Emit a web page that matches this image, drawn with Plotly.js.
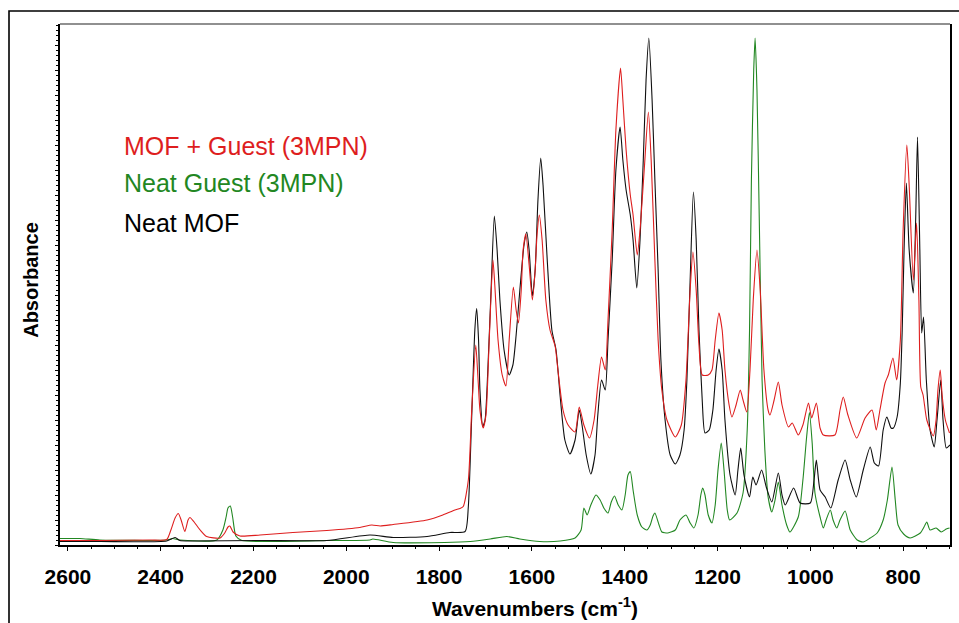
<!DOCTYPE html>
<html>
<head>
<meta charset="utf-8">
<script src="https://cdn.plot.ly/plotly-3.0.1.min.js"></script>
<style>html,body{margin:0;padding:0;background:#fff;}#chart{width:959px;height:623px;}</style>
</head>
<body>
<div id="chart"></div>
<script>
// Neat MOF (black)
var wnMOF = [2617,2531,2387,2369,2359,2331,2186,2042,1949,1899,
1826,1777,1744,1737,1730,1723,1719,1715,1712,1706,
1701,1695,1688,1681,1675,1669,1660,1649,1641,1634,
1626,1617,1611,1606,1599,1593,1587,1581,1576,1567,
1557,1548,1539,1529,1518,1507,1498,1492,1483,1473,
1464,1458,1450,1442,1436,1427,1419,1410,1404,1397,
1388,1382,1374,1367,1360,1354,1348,1341,1335,1328,
1322,1313,1302,1291,1281,1272,1266,1259,1252,1246,
1240,1233,1227,1218,1210,1203,1197,1190,1184,1173,
1162,1156,1150,1143,1131,1124,1117,1105,1095,1083,
1069,1061,1054,1036,1022,1000,992,987,979,968,
956,940,925,914,901,886,871,862,853,843,
835,826,821,813,806,802,798,793,787,778,
773,769,764,760,756,750,742,733,727,719,
714,707,699];
var absMOF = [0.007,0.007,0.008,0.015,0.009,0.008,0.009,0.009,0.020,0.015,
0.017,0.025,0.027,0.077,0.250,0.430,0.473,0.410,0.310,0.237,
0.250,0.350,0.510,0.658,0.590,0.490,0.390,0.340,0.360,0.420,
0.510,0.600,0.626,0.590,0.498,0.550,0.690,0.774,0.720,0.570,
0.430,0.390,0.296,0.210,0.182,0.210,0.270,0.240,0.180,0.142,
0.180,0.260,0.330,0.310,0.410,0.570,0.750,0.836,0.770,0.710,
0.660,0.610,0.514,0.610,0.770,0.930,1.014,0.890,0.730,0.550,
0.370,0.250,0.180,0.162,0.180,0.230,0.330,0.530,0.706,0.610,
0.430,0.290,0.224,0.230,0.270,0.350,0.392,0.350,0.250,0.140,
0.100,0.150,0.194,0.140,0.096,0.136,0.120,0.150,0.116,0.086,
0.144,0.100,0.080,0.114,0.084,0.084,0.130,0.170,0.110,0.096,
0.074,0.130,0.170,0.130,0.096,0.150,0.196,0.164,0.158,0.230,
0.256,0.234,0.234,0.256,0.324,0.430,0.590,0.724,0.590,0.504,
0.650,0.816,0.590,0.424,0.456,0.330,0.230,0.196,0.250,0.330,
0.250,0.194,0.200];

// MOF + Guest (3MPN) (red)
var wnMOFGuest = [2617,2531,2423,2387,2378,2369,2362,2356,2348,2341,
2337,2328,2315,2301,2272,2262,2255,2251,2244,2229,
2186,2115,2042,1971,1945,1927,1899,1826,1792,1766,
1755,1748,1737,1730,1721,1716,1712,1705,1699,1692,
1684,1680,1673,1664,1656,1649,1640,1634,1629,1623,
1619,1613,1606,1599,1593,1589,1584,1578,1570,1561,
1550,1544,1533,1522,1507,1498,1488,1476,1466,1458,
1450,1442,1436,1427,1419,1409,1404,1397,1388,1382,
1373,1367,1358,1349,1343,1335,1328,1320,1309,1291,
1278,1268,1259,1253,1246,1240,1233,1220,1212,1205,
1197,1190,1184,1175,1169,1160,1151,1145,1137,1130,
1123,1115,1108,1100,1091,1087,1078,1069,1061,1047,
1039,1026,1016,1004,997,987,979,972,947,936,
929,919,900,882,867,858,850,839,832,822,
814,806,800,792,787,778,771,766,762,757,
749,735,729,725,720,716,709,700];
var absMOFGuest = [0.009,0.009,0.010,0.011,0.030,0.054,0.063,0.050,0.027,0.050,
0.055,0.046,0.030,0.017,0.014,0.024,0.036,0.038,0.026,0.018,
0.020,0.025,0.029,0.035,0.040,0.038,0.041,0.050,0.060,0.070,
0.073,0.077,0.130,0.264,0.400,0.330,0.270,0.234,0.260,0.410,
0.570,0.520,0.410,0.340,0.318,0.410,0.516,0.470,0.444,0.510,
0.590,0.622,0.560,0.490,0.550,0.620,0.660,0.610,0.490,0.430,
0.398,0.350,0.270,0.240,0.226,0.276,0.240,0.214,0.250,0.320,
0.376,0.350,0.450,0.630,0.830,0.954,0.890,0.790,0.700,0.660,
0.580,0.630,0.750,0.866,0.770,0.570,0.410,0.310,0.250,0.216,
0.240,0.330,0.510,0.586,0.510,0.400,0.340,0.340,0.350,0.410,
0.464,0.430,0.350,0.280,0.256,0.280,0.310,0.290,0.266,0.350,
0.490,0.590,0.510,0.350,0.270,0.260,0.290,0.326,0.280,0.236,
0.244,0.220,0.240,0.284,0.254,0.284,0.234,0.220,0.220,0.270,
0.296,0.260,0.214,0.254,0.270,0.230,0.270,0.324,0.340,0.374,
0.330,0.410,0.630,0.800,0.720,0.530,0.644,0.490,0.316,0.300,
0.250,0.218,0.250,0.310,0.350,0.300,0.250,0.224];

// Neat Guest (3MPN) (green)
var wnGuest = [2617,2574,2531,2387,2374,2359,2279,2266,2259,2255,
2250,2245,2238,2225,2042,1949,1943,1899,1755,1733,
1690,1654,1626,1583,1539,1507,1494,1488,1481,1473,
1462,1453,1445,1436,1429,1422,1414,1406,1399,1393,
1388,1382,1373,1363,1352,1345,1339,1335,1326,1320,
1307,1291,1281,1268,1259,1251,1242,1236,1232,1227,
1220,1212,1205,1199,1192,1186,1179,1174,1158,1145,
1136,1131,1127,1122,1119,1115,1110,1104,1098,1091,
1083,1076,1069,1061,1051,1044,1026,1016,1008,1002,
996,990,979,972,966,957,951,943,936,925,
914,899,886,871,856,843,834,824,817,811,
799,785,763,755,749,742,729,718,707,700];
var absGuest = [0.013,0.013,0.010,0.010,0.013,0.010,0.010,0.030,0.056,0.074,
0.078,0.056,0.018,0.009,0.009,0.010,0.012,0.005,0.006,0.007,
0.012,0.017,0.012,0.007,0.008,0.014,0.030,0.074,0.060,0.080,
0.100,0.090,0.074,0.064,0.086,0.098,0.080,0.070,0.100,0.140,
0.147,0.110,0.060,0.036,0.030,0.040,0.058,0.064,0.040,0.026,
0.024,0.030,0.050,0.060,0.044,0.034,0.060,0.100,0.114,0.100,
0.060,0.044,0.080,0.150,0.204,0.150,0.070,0.050,0.064,0.104,
0.230,0.430,0.730,0.950,1.014,0.910,0.650,0.330,0.190,0.096,
0.066,0.090,0.126,0.080,0.040,0.026,0.056,0.130,0.216,0.265,
0.204,0.104,0.056,0.034,0.050,0.070,0.050,0.034,0.050,0.068,
0.030,0.010,0.006,0.014,0.024,0.050,0.090,0.156,0.090,0.040,
0.022,0.014,0.024,0.036,0.046,0.030,0.034,0.026,0.032,0.034];

var tickVals = [2600,2400,2200,2000,1800,1600,1400,1200,1000,800];
var seriesNames = ["MOF + Guest (3MPN)", "Neat Guest (3MPN)", "Neat MOF"];

var RED = "rgb(222,30,30)", GREEN = "rgb(34,135,34)", BLACK = "rgb(15,15,15)";
var FONT = "Arial, 'Liberation Sans', sans-serif";

function lineStyle(c) { return {color: c, width: 1.1, shape: "spline", smoothing: 0.6}; }

var traces = [
  {x: wnGuest, y: absGuest, name: seriesNames[1], type: "scatter", mode: "lines", line: lineStyle(GREEN)},
  {x: wnMOF, y: absMOF, name: seriesNames[2], type: "scatter", mode: "lines", line: lineStyle(BLACK)},
  {x: wnMOFGuest, y: absMOFGuest, name: seriesNames[0], type: "scatter", mode: "lines", line: lineStyle(RED)}
];

var layout = {
  width: 959, height: 623,
  margin: {l: 60, r: 9, t: 24, b: 78},
  paper_bgcolor: "#fff", plot_bgcolor: "#fff",
  showlegend: false,
  font: {family: FONT, color: "#000"},
  xaxis: {
    range: [2617, 699], tickvals: tickVals, ticktext: tickVals.map(String),
    showgrid: false, zeroline: false, showline: true, linecolor: "#000", linewidth: 2,
    ticks: "outside", ticklen: 4, tickwidth: 1, tickcolor: "#000",
    minor: {dtick: 50, ticks: "outside", ticklen: 2, tickcolor: "#000"},
    tickfont: {family: FONT, size: 21, weight: "bold", color: "#000"},
    ticklabelstandoff: 8
  },
  yaxis: {
    range: [0, 1.042], showticklabels: false, showgrid: false, zeroline: false,
    showline: true, linecolor: "#000", linewidth: 2, mirror: true,
    ticks: "outside", ticklen: 3, tickwidth: 1, dtick: 0.05, tickcolor: "#000",
    minor: {dtick: 0.01, ticks: "outside", ticklen: 2, tickcolor: "#000"}
  },
  shapes: [
    {type: "line", xref: "paper", yref: "paper", x0: 0, x1: 1, y0: 1, y1: 1, line: {color: "#222", width: 1.2}},
    {type: "path", xref: "paper", yref: "paper",
     path: "M -0.0573,-0.17 L -0.0573,1.025 L 1.02,1.025", line: {color: "#000", width: 1.6}}
  ],
  annotations: [
    {xref: "paper", yref: "paper", x: 0.534, y: -0.119, xanchor: "center", yanchor: "middle", showarrow: false,
     text: "<b>Wavenumbers (cm<sup>-1</sup>)</b>", font: {family: FONT, size: 21, color: "#000"}},
    {xref: "paper", yref: "paper", x: -0.0326, y: 0.509, xanchor: "center", yanchor: "middle", showarrow: false,
     textangle: -90, text: "<b>Absorbance</b>", font: {family: FONT, size: 20, color: "#000"}},
    {xref: "paper", yref: "paper", x: 0.0697, y: 0.766, xanchor: "left", yanchor: "middle", showarrow: false,
     text: seriesNames[0], font: {family: FONT, size: 25, color: RED}},
    {xref: "paper", yref: "paper", x: 0.0697, y: 0.695, xanchor: "left", yanchor: "middle", showarrow: false,
     text: seriesNames[1], font: {family: FONT, size: 25, color: GREEN}},
    {xref: "paper", yref: "paper", x: 0.0697, y: 0.618, xanchor: "left", yanchor: "middle", showarrow: false,
     text: seriesNames[2], font: {family: FONT, size: 25, color: "#000"}}
  ]
};

Plotly.newPlot("chart", traces, layout, {displayModeBar: false, staticPlot: true});
</script>
</body>
</html>
